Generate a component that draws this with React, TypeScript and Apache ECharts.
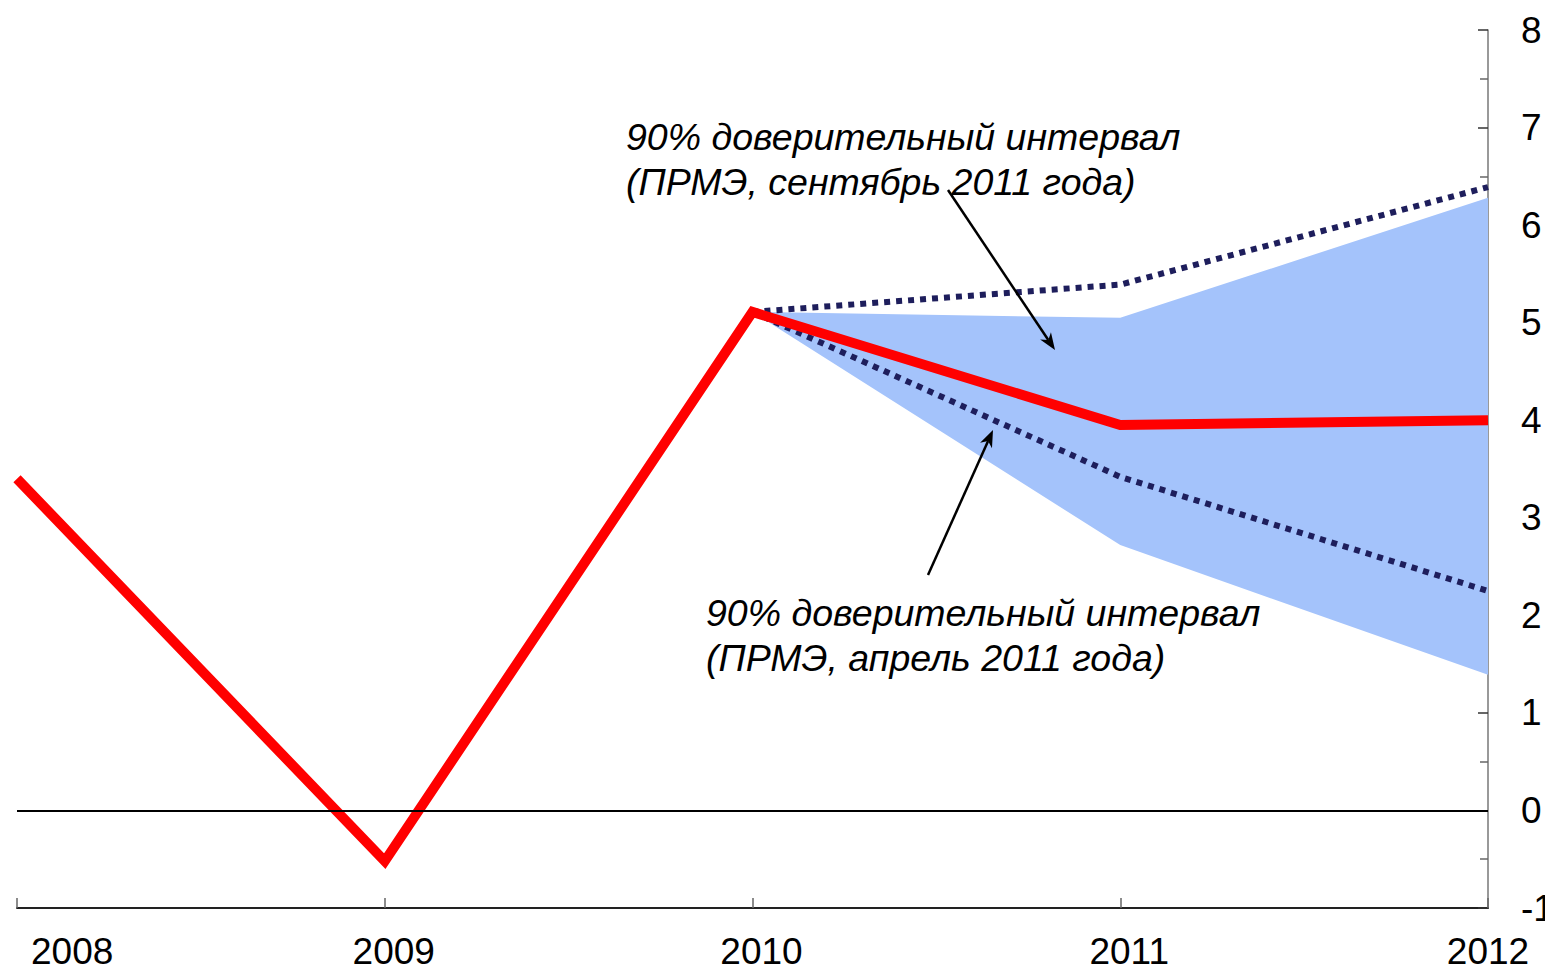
import React, { useEffect, useRef } from "react";
import * as echarts from "echarts";

const years = ["2008", "2009", "2010", "2011", "2012"];
const actual = [3.4, -0.52, 5.11, 3.95, 4.0];
const bandLower = [null, null, 5.11, 2.72, 1.39];
const bandUpper = [null, null, 5.11, 5.05, 6.28];
const dotUpper = [null, null, 5.11, 5.39, 6.39];
const dotLower = [null, null, 5.11, 3.42, 2.25];
const yMin = -1;
const yMax = 8;
const yInterval = 1;

const labelSept = "90% доверительный интервал\n(ПРМЭ, сентябрь 2011 года)";
const labelApr = "90% доверительный интервал\n(ПРМЭ, апрель 2011 года)";

const FONT = '"Liberation Sans", Arial, sans-serif';

function arrow(x1: number, y1: number, x2: number, y2: number) {
  const dx = x2 - x1;
  const dy = y2 - y1;
  const len = Math.sqrt(dx * dx + dy * dy);
  const ux = dx / len;
  const uy = dy / len;
  const px = -uy;
  const py = ux;
  const L = 17;
  const W = 6.5;
  const N = 12;
  const bx = x2 - ux * L;
  const by = y2 - uy * L;
  const nx = x2 - ux * N;
  const ny = y2 - uy * N;
  return [
    {
      type: "line",
      shape: { x1, y1, x2: nx, y2: ny },
      style: { stroke: "#000", lineWidth: 2.5 },
      z: 100,
    },
    {
      type: "polygon",
      shape: {
        points: [
          [x2, y2],
          [bx + px * W, by + py * W],
          [nx, ny],
          [bx - px * W, by - py * W],
        ],
      },
      style: { fill: "#000" },
      z: 100,
    },
  ];
}

export default function App() {
  const ref = useRef<HTMLDivElement>(null);
  useEffect(() => {
    if (!ref.current) return;
    const chart = echarts.init(ref.current, null, { renderer: "svg" });
    const bandWidth = bandUpper.map((u, i) =>
      u == null || bandLower[i] == null ? null : +(u - (bandLower[i] as number)).toFixed(3)
    );
    chart.setOption({
      animation: false,
      backgroundColor: "#fff",
      grid: {
        left: 17,
        right: 57,
        top: 30,
        bottom: 64,
        containLabel: false,
        outerBoundsMode: "none",
      },
      xAxis: {
        type: "category",
        data: years,
        boundaryGap: false,
        axisLine: { onZero: false, lineStyle: { color: "#222", width: 2 } },
        axisTick: { show: true, inside: true, length: 10, lineStyle: { color: "#666", width: 1.5 } },
        axisLabel: {
          color: "#000",
          fontSize: 37,
          fontFamily: FONT,
          margin: 25,
          alignMinLabel: "left",
          formatter: (v: string, i: number) =>
            i === 0 ? `{first|${v}}` : i === years.length - 1 ? `{last|${v}}` : `{mid|${v}}`,
          rich: {
            first: { fontSize: 37, fontFamily: FONT, color: "#000", padding: [0, 0, 0, 14] },
            mid: { fontSize: 37, fontFamily: FONT, color: "#000", padding: [0, 0, 0, 18] },
            last: { fontSize: 37, fontFamily: FONT, color: "#000" },
          },
        },
        splitLine: { show: false },
      },
      yAxis: {
        type: "value",
        position: "right",
        min: yMin,
        max: yMax,
        interval: yInterval,
        axisLine: { show: true, lineStyle: { color: "#777", width: 1.5 } },
        axisTick: { show: true, inside: true, length: 10, lineStyle: { color: "#333", width: 1.5 } },
        minorTick: { show: true, splitNumber: 2, length: 8, lineStyle: { color: "#666", width: 1.5 } },
        axisLabel: { color: "#000", fontSize: 37, fontFamily: FONT, margin: 33, inside: false },
        splitLine: { show: false },
      },
      series: [
        {
          name: "bandBase",
          type: "line",
          data: bandLower,
          stack: "band",
          symbol: "none",
          silent: true,
          lineStyle: { opacity: 0, width: 0 },
          z: 1,
        },
        {
          name: "band",
          type: "line",
          data: bandWidth,
          stack: "band",
          symbol: "none",
          silent: true,
          lineStyle: { opacity: 0, width: 0 },
          areaStyle: { color: "#a4c3fb", opacity: 1 },
          z: 1,
        },
        {
          name: "zero",
          type: "line",
          data: [],
          silent: true,
          z: 2,
          markLine: {
            silent: true,
            symbol: "none",
            label: { show: false },
            lineStyle: { color: "#000", width: 2, type: "solid" },
            data: [{ yAxis: 0 }],
          },
        },
        {
          name: "upperDot",
          type: "line",
          data: dotUpper,
          symbol: "none",
          lineStyle: { color: "#1e1e5c", width: 6, type: [6, 6], cap: "butt" },
          z: 3,
        },
        {
          name: "lowerDot",
          type: "line",
          data: dotLower,
          symbol: "none",
          lineStyle: { color: "#1e1e5c", width: 6, type: [6, 6], cap: "butt" },
          z: 3,
        },
        {
          name: "actual",
          type: "line",
          data: actual,
          symbol: "none",
          lineStyle: { color: "#ff0000", width: 10, join: "miter" },
          z: 4,
        },
      ],
      graphic: [
        {
          type: "text",
          x: 626,
          y: 114,
          z: 100,
          style: {
            text: labelSept,
            font: `italic 37.5px ${FONT}`,
            fill: "#000",
            lineHeight: 45,
          },
        },
        {
          type: "text",
          x: 706,
          y: 590,
          z: 100,
          style: {
            text: labelApr,
            font: `italic 37.5px ${FONT}`,
            fill: "#000",
            lineHeight: 45,
          },
        },
        ...arrow(948, 190, 1055, 350),
        ...arrow(928, 575, 993, 430),
      ],
    });
    return () => chart.dispose();
  }, []);
  return (
    <div
      ref={ref}
      style={{ position: "fixed", left: 0, top: 0, width: 1545, height: 972 }}
    />
  );
}
